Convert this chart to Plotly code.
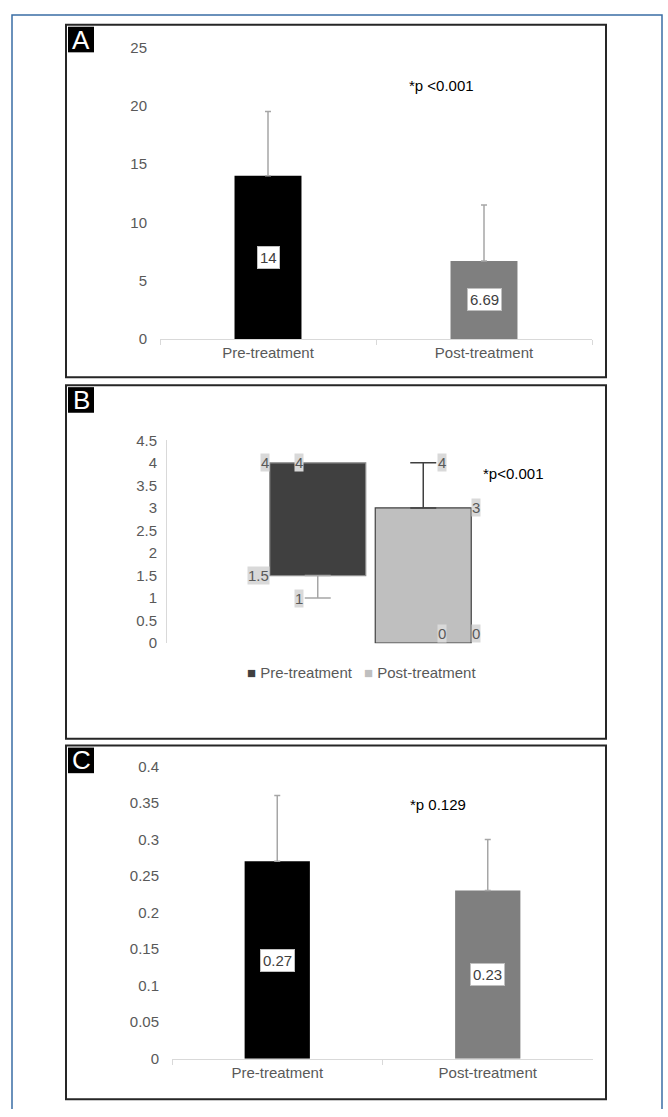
import plotly.graph_objects as go

# ---- data -------------------------------------------------------------
groups = ["Pre-treatment", "Post-treatment"]

# A: mean score with SD
a_means = [14, 6.69]
a_sd = [5.5, 4.8]
a_ticks = [0, 5, 10, 15, 20, 25]
a_pvalue = "*p <0.001"

# B: median / interquartile range (whiskers: min and max)
b_min = [1, 0]
b_q1 = [1.5, 0]
b_q3 = [4, 3]
b_max = [4, 4]
b_ticks = [0, 0.5, 1, 1.5, 2, 2.5, 3, 3.5, 4, 4.5]
b_pvalue = "*p<0.001"

# C: mean with SD
c_means = [0.27, 0.23]
c_sd = [0.09, 0.07]
c_ticks = [0, 0.05, 0.1, 0.15, 0.2, 0.25, 0.3, 0.35, 0.4]
c_pvalue = "*p 0.129"

panel_letters = ["A", "B", "C"]

# ---- styling ----------------------------------------------------------
W, H = 668, 1117
FONT = "Liberation Sans, Arial, sans-serif"
TICK_GREY = "#595959"
AXIS_GREY = "#d9d9d9"
mean_colors = ["#000000", "#7f7f7f"]
box_fill = ["#404040", "#bfbfbf"]
box_edge = ["#8c8c8c", "#404040"]
whisker_colors = ["#a6a6a6", "#404040"]


def fx(x):
    return x / W


def fy(y):
    return 1 - y / H


def label_fmt(v):
    return f"{v:g}"


fig = go.Figure()

# ---- panel A ----------------------------------------------------------
fig.add_trace(go.Bar(
    x=groups, y=a_means, width=0.31,
    marker=dict(color=mean_colors, line_width=0),
    error_y=dict(type="data", array=a_sd, arrayminus=[0] * len(a_sd),
                 symmetric=False, color="#a6a6a6", thickness=1.5, width=3),
    showlegend=False, hoverinfo="skip", xaxis="x", yaxis="y"))

# ---- panel C ----------------------------------------------------------
fig.add_trace(go.Bar(
    x=groups, y=c_means, width=0.31,
    marker=dict(color=mean_colors, line_width=0),
    error_y=dict(type="data", array=c_sd, arrayminus=[0] * len(c_sd),
                 symmetric=False, color="#a6a6a6", thickness=1.5, width=3),
    showlegend=False, hoverinfo="skip", xaxis="x3", yaxis="y3"))

# ---- panel B: floating IQR boxes with whiskers ------------------------
B_WIDTH = 0.91
for i, g in enumerate(groups):
    fig.add_trace(go.Bar(
        x=[g], y=[b_q3[i] - b_q1[i]], base=[b_q1[i]], width=B_WIDTH,
        marker=dict(color=box_fill[i], line=dict(color=box_edge[i], width=1.2)),
        name=g, showlegend=False, hoverinfo="skip", xaxis="x2", yaxis="y2"))

for i, g in enumerate(groups):
    lower = b_q1[i] - b_min[i]
    upper = b_max[i] - b_q3[i]
    if lower > 0:
        fig.add_trace(go.Scatter(
            x=[g], y=[b_min[i]], mode="markers", marker=dict(size=1, opacity=0),
            error_y=dict(type="data", array=[lower], arrayminus=[0], symmetric=False,
                         color=whisker_colors[i], thickness=1.5, width=13),
            showlegend=False, hoverinfo="skip", xaxis="x2", yaxis="y2"))
    if upper > 0:
        fig.add_trace(go.Scatter(
            x=[g], y=[b_max[i]], mode="markers", marker=dict(size=1, opacity=0),
            error_y=dict(type="data", array=[0], arrayminus=[upper], symmetric=False,
                         color=whisker_colors[i], thickness=1.5, width=13),
            showlegend=False, hoverinfo="skip", xaxis="x2", yaxis="y2"))

annotations = []

# value boxes inside mean bars
for axis_id, values in (("", a_means), ("3", c_means)):
    for g, v in zip(groups, values):
        annotations.append(dict(
            x=g, y=v / 2, xref="x" + axis_id, yref="y" + axis_id,
            text=label_fmt(v), showarrow=False,
            font=dict(family=FONT, size=15, color="#404040"),
            bgcolor="white", bordercolor="#bfbfbf", borderwidth=1, borderpad=2))

# quartile / whisker labels in panel B
for i, g in enumerate(groups):
    side = -1 if i == 0 else 1
    edge_x = i + side * B_WIDTH / 2
    mid_x = i + side * 0.18
    for xpos, anchor, v in ((edge_x, "right" if side < 0 else "left", b_q3[i]),
                            (edge_x, "right" if side < 0 else "left", b_q1[i]),
                            (mid_x, "center", b_max[i]),
                            (mid_x, "center", b_min[i])):
        annotations.append(dict(
            x=xpos, y=v, xref="x2", yref="y2", xanchor=anchor,
            yanchor="bottom" if v == 0 else "middle",
            text=label_fmt(v), showarrow=False,
            font=dict(family=FONT, size=15, color=TICK_GREY),
            bgcolor="#d9d9d9", borderpad=0))

# key for panel B, laid out like a compact spreadsheet legend
for g, colour, x in zip(groups, box_fill, (245, 362)):
    annotations.append(dict(
        x=fx(x), y=fy(674), xref="paper", yref="paper",
        xanchor="left", yanchor="middle", showarrow=False,
        text=f"<span style='color:{colour}'>\u25A0</span> {g}",
        font=dict(family=FONT, size=15, color=TICK_GREY)))

# p-value notes
for text, x, y in ((a_pvalue, 407, 78), (b_pvalue, 481, 472), (c_pvalue, 408, 808)):
    annotations.append(dict(
        x=fx(x), y=fy(y), xref="paper", yref="paper", xanchor="left",
        yanchor="middle", text=text, showarrow=False,
        font=dict(family=FONT, size=15, color="#000000")))

# page frame, panel frames and letter tags
panels = [(16, 374), (382, 741), (748, 1107)]
shapes = [dict(type="path", xref="paper", yref="paper",
               path=f"M{fx(12)},0 L{fx(12)},{fy(6)} L{fx(662)},{fy(6)} L{fx(662)},0",
               line=dict(color="#3a6ea5", width=1.5))]
for (top, bottom), letter in zip(panels, panel_letters):
    shapes.append(dict(type="rect", xref="paper", yref="paper",
                       x0=fx(66), x1=fx(606), y0=fy(bottom), y1=fy(top),
                       line=dict(color="#262626", width=2), fillcolor="rgba(0,0,0,0)"))
    shapes.append(dict(type="rect", xref="paper", yref="paper",
                       x0=fx(68), x1=fx(94), y0=fy(top + 28), y1=fy(top + 2),
                       line=dict(width=0), fillcolor="#000000", layer="above"))
    annotations.append(dict(
        x=fx(81), y=fy(top + 15), xref="paper", yref="paper",
        xanchor="center", yanchor="middle",
        text=letter, showarrow=False,
        font=dict(family=FONT, size=26, color="white")))

tickfont = dict(family=FONT, size=15, color=TICK_GREY)

fig.update_layout(
    width=W, height=H, autosize=False,
    margin=dict(l=0, r=0, t=0, b=0),
    paper_bgcolor="white", plot_bgcolor="rgba(0,0,0,0)",
    barmode="overlay", showlegend=False,
    font=dict(family=FONT),
    xaxis=dict(domain=[fx(160), fx(592)], type="category", categoryarray=groups,
               showline=True, linecolor=AXIS_GREY, linewidth=1,
               ticks="outside", tickson="boundaries", ticklen=5, tickcolor=AXIS_GREY,
               tickfont=tickfont, showgrid=False, fixedrange=True, anchor="y"),
    yaxis=dict(domain=[fy(335), fy(39)], range=[0, 25], tickvals=a_ticks,
               showline=False, showgrid=False, zeroline=False, ticks="",
               tickfont=tickfont, ticklabelstandoff=12, fixedrange=True,
               anchor="x"),
    xaxis2=dict(domain=[fx(167), fx(574)], type="category", categoryarray=groups,
                range=[-1.429, 2.429], visible=False, fixedrange=True, anchor="y2"),
    yaxis2=dict(domain=[fy(644), fy(438)], range=[0, 4.5], tickvals=b_ticks,
                showline=True, linecolor=AXIS_GREY, linewidth=1,
                showgrid=False, zeroline=False, ticks="",
                tickfont=tickfont, ticklabelstandoff=6, fixedrange=True,
                anchor="x2"),
    xaxis3=dict(domain=[fx(172), fx(593)], type="category", categoryarray=groups,
                showline=True, linecolor=AXIS_GREY, linewidth=1,
                ticks="outside", tickson="boundaries", ticklen=5, tickcolor=AXIS_GREY,
                tickfont=tickfont, showgrid=False, fixedrange=True, anchor="y3"),
    yaxis3=dict(domain=[fy(1066), fy(769)], range=[0, 0.4], tickvals=c_ticks,
                showline=False, showgrid=False, zeroline=False, ticks="",
                tickfont=tickfont, ticklabelstandoff=12, fixedrange=True,
                anchor="x3"),
    annotations=annotations,
    shapes=shapes,
)

fig.write_html("out.html")
